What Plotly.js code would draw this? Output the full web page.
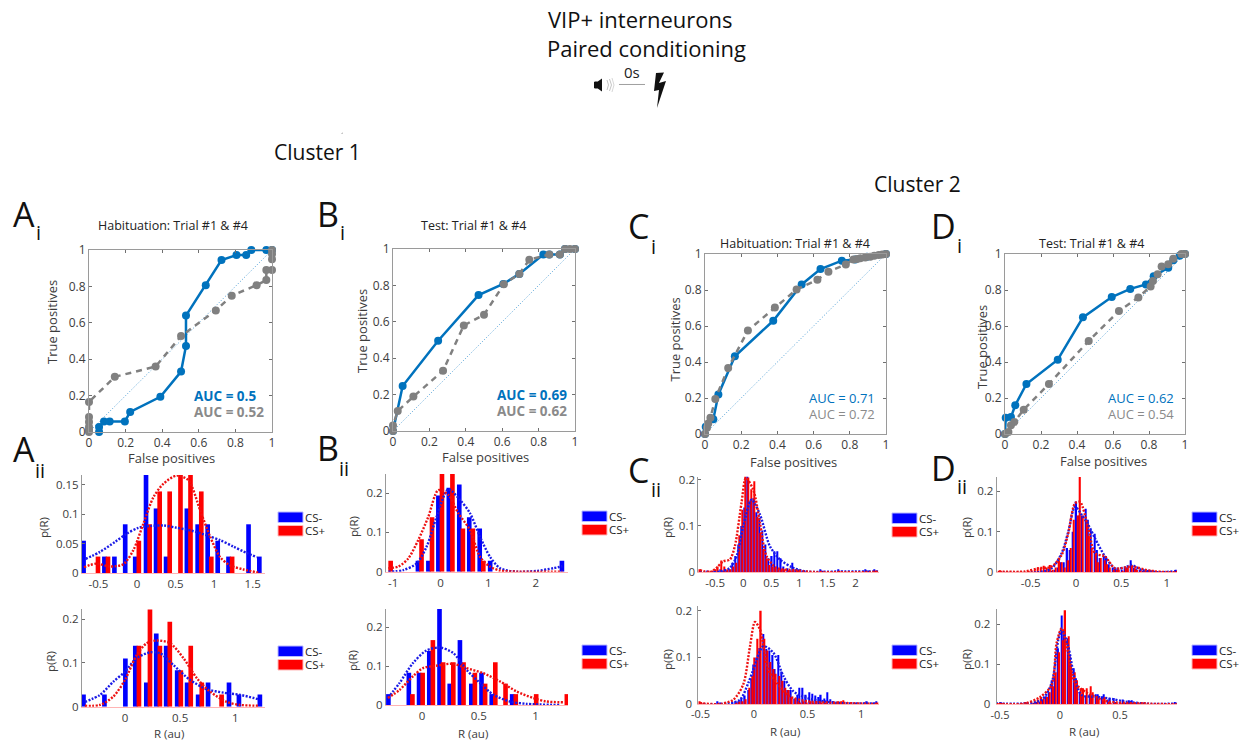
<!DOCTYPE html>
<html><head><meta charset="utf-8">
<script src="https://cdn.plot.ly/plotly-3.0.1.min.js"></script>
<style>html,body{margin:0;padding:0;background:#fff}#g{width:1248px;height:742px}</style>
</head><body><div id="g"></div>
<script>
/* ---------- ROC data ---------- */
const aBlueX=[.055,.055,.082,.113,.196,.225,.39,.503,.53,.53,.638,.724,.806,.859,.887,.969,1];
const aBlueY=[0,.028,.058,.058,.058,.11,.193,.332,.473,.64,.807,.945,.972,.972,1,1,1];
const aGrayX=[0,0,0,0,0,0,.141,.364,.503,.693,.78,.916,.969,.969,1,1,1,1];
const aGrayY=[0,.014,.028,.055,.083,.165,.303,.36,.527,.668,.749,.807,.835,.89,.89,.949,.978,1];
const bBlueX=[0,.053,.248,.47,.606,.694,.826,.859,.917,.945,1];
const bBlueY=[0,.247,.496,.747,.808,.863,.97,.97,.97,1,1];
const bGrayX=[0,0,.026,.112,.275,.389,.5,.609,.694,.749,.859,.917,.945,.972,1];
const bGrayY=[0,.03,.11,.189,.331,.58,.639,.806,.863,.941,.97,.97,1,1,1];
const cBlueX=[0,.004,.046,.074,.165,.377,.534,.638,.756,.83,.895,1];
const cBlueY=[0,.04,.082,.22,.432,.629,.831,.916,.963,.97,.985,1];
const cGrayX=[0,.011,.018,.03,.057,.128,.237,.386,.506,.621,.682,.778,.82,.84,.858,.885,.913,.935,.96,.98,1];
const cGrayY=[0,.035,.058,.09,.195,.367,.575,.703,.803,.857,.902,.942,.97,.972,.976,.98,.985,.99,.994,.997,1];
const dBlueX=[0,.004,.033,.057,.119,.293,.433,.593,.696,.783,.826,.907,.935,.97,1];
const dBlueY=[0,.09,.094,.16,.278,.413,.648,.761,.806,.831,.876,.924,.965,.99,1];
const dGrayX=[0,.019,.033,.052,.104,.244,.465,.633,.741,.809,.822,.848,.87,.907,.935,.98,1];
const dGrayY=[0,.011,.048,.067,.135,.278,.517,.683,.759,.82,.85,.887,.931,.943,.974,1,1];
const rocTicks=[0,.2,.4,.6,.8,1];
const rocTickText=['0','0.2','0.4','0.6','0.8','1'];

/* ---------- histogram data ---------- */
const a1Bins=[-.67,-.53,-.40,-.27,-.13,0,.14,.27,.40,.54,.67,.81,.94,1.07,1.21,1.34,1.47,1.61];
const a1Blue=[.055,0,.028,.028,.083,.028,.167,.11,.028,0,.11,.083,.083,.055,.028,0,.083,.028];
const a1Red=[0,.028,.028,0,0,.055,.083,.139,.139,.167,.167,.139,.028,0,.028,0,0,0];
const a1BlueCurveX=[-.667,-.48,-.286,-.134,.017,.169,.342,.515,.71,.905,1.078,1.25,1.424,1.554];
const a1BlueCurveY=[.024,.036,.053,.067,.077,.080,.081,.077,.072,.064,.056,.045,.034,.027];
const a1RedCurveX=[-.688,-.524,-.351,-.177,-.048,.082,.212,.342,.515,.667,.818,.948,1.078,1.208,1.381,1.597];
const a1RedCurveY=[.010,.016,.011,.015,.039,.084,.129,.152,.166,.158,.107,.062,.027,.013,.006,0];

const a2Bins=[-.36,-.26,-.17,-.08,.02,.11,.21,.30,.39,.49,.58,.68,.77,.86,.96,1.05,1.15,1.24];
const a2Blue=[.028,0,.028,0,.11,.139,.055,.167,.139,.083,.055,.028,.055,0,.055,.028,0,.028];
const a2Red=[0,0,0,0,0,.139,.222,.139,.194,.083,.139,.055,0,.028,0,0,0,0];
const a2BlueCurveX=[-.364,-.227,-.106,0,.106,.227,.318,.439,.591,.742,.894,1.045,1.212];
const a2BlueCurveY=[.011,.027,.057,.080,.111,.124,.122,.095,.061,.040,.032,.027,.017];
const a2RedCurveX=[-.364,-.227,-.106,0,.106,.197,.288,.409,.53,.652,.773,.924,1.045,1.212];
const a2RedCurveY=[.002,.004,.023,.061,.118,.145,.151,.145,.111,.065,.034,.011,.004,.002];

const b1Bins=[-1.09,-.87,-.66,-.44,-.22,-.01,.21,.43,.64,.86,1.08,1.29,1.51,1.73,1.94,2.16,2.38,2.59];
const b1Blue=[0,0,0,.028,.028,.194,.214,.222,.139,.11,.028,0,0,0,0,0,0,.028];
const b1Red=[.028,0,0,.083,.139,.25,.25,.11,.11,.028,0,0,0,0,0,0,0,0];
const b1BlueCurveX=[-1.10,-.786,-.505,-.295,-.084,.161,.407,.618,.828,1.039,1.249,1.6,2.02,2.372,2.561];
const b1BlueCurveY=[0,.004,.021,.064,.14,.21,.183,.149,.089,.038,.009,0,.002,.009,.014];
const b1RedCurveX=[-1.10,-.891,-.681,-.47,-.26,-.049,.161,.372,.618,.828,1.039,1.249,1.67,2.561];
const b1RedCurveY=[.009,.013,.034,.081,.14,.208,.196,.149,.106,.038,.013,.003,0,0];

const b2Bins=[-.28,-.19,-.10,-.01,.08,.17,.26,.35,.45,.54,.63,.72,.81,.90,.99,1.08,1.17,1.26];
const b2Blue=[.028,0,.083,.083,.139,.25,.055,.167,.055,.083,.028,0,.028,0,0,0,0,0];
const b2Red=[0,0,.028,.083,.167,.11,.11,.11,.083,.055,.11,.055,.028,0,.028,0,0,.028];
const b2BlueCurveX=[-.3,-.197,-.079,.038,.156,.274,.391,.509,.626,.774,.921,1.215];
const b2BlueCurveY=[.018,.057,.108,.14,.148,.134,.091,.057,.027,.009,.003,0];
const b2RedCurveX=[-.3,-.197,-.079,.009,.126,.274,.391,.538,.685,.832,.979,1.097,1.244];
const b2RedCurveY=[.018,.039,.074,.095,.101,.106,.095,.082,.061,.035,.018,.009,.007];

const c1Bins=[-.78,-.73,-.67,-.62,-.56,-.51,-.46,-.40,-.35,-.29,-.24,-.19,-.13,-.08,-.02,.03,.08,.14,.19,.25,.30,.35,.41,.46,.52,.57,.62,.68,.73,.79,.84,.89,.95,1.00,1.06,1.11,1.16,1.22,1.27,1.33,1.38,1.43,1.49,1.54,1.60,1.65,1.70,1.76,1.81,1.87,1.92,1.97,2.03,2.08,2.14,2.19,2.24,2.30,2.35,2.41];
const c1Blue=[0,0,0,.003,0,.003,0,.006,.003,.003,.006,.02,.035,.06,.10,.14,.21,.155,.16,.13,.118,.09,.06,.03,.035,.045,.045,.03,.012,.008,.004,.02,.006,.006,.003,.003,0,0,0,0,.006,.002,0,0,0,0,.006,0,0,0,0,0,0,0,0,.006,.003,0,.006,0];
const c1Red=[.006,0,0,.002,.003,.006,.012,.025,.012,.006,.006,.012,.02,.08,.135,.21,.205,.18,.197,.12,.085,.05,.03,.015,.012,.01,.006,.006,.006,.003,.003,.006,.003,.003,0,0,0,0,0,0,.002,0,0,0,0,0,.002,0,0,0,0,0,0,0,0,.002,0,0,.003,0];
const c1BlueCurveX=[-.774,-.417,-.238,-.119,0,.149,.298,.476,.655,.893,1.131,1.667,2.41];
const c1BlueCurveY=[0,.001,.009,.034,.099,.157,.125,.056,.027,.009,.001,.001,.001];
const c1RedCurveX=[-.774,-.595,-.476,-.357,-.238,-.149,-.03,.048,.179,.298,.417,.595,.893,1.25,2.41];
const c1RedCurveY=[.004,0,.009,.023,.027,.056,.15,.204,.179,.107,.034,.009,.004,0,0];

const c2Bins=[-.51,-.48,-.45,-.42,-.40,-.37,-.34,-.31,-.28,-.25,-.22,-.20,-.17,-.14,-.11,-.08,-.05,-.02,0,.03,.06,.09,.12,.15,.18,.20,.23,.26,.29,.32,.35,.38,.41,.43,.46,.49,.52,.55,.58,.61,.63,.66,.69,.72,.75,.78,.81,.83,.86,.89,.92,.95,.98,1.01,1.04,1.06,1.09,1.12,1.15];
const c2Blue=[0,0,0,0,0,0,.006,.003,0,0,0,.003,.006,.006,.012,.018,.03,.055,.085,.10,.12,.15,.118,.115,.105,.075,.105,.07,.05,.03,.03,.012,.02,.035,.035,.02,.025,.022,.018,.015,.02,.012,.025,.01,.006,.003,.003,0,0,0,0,.002,0,0,.003,.006,0,.003,.006];
const c2Red=[.006,.002,0,0,0,0,0,0,0,0,0,0,.003,.006,.006,.01,.035,.06,.10,.14,.20,.14,.115,.09,.075,.065,.06,.05,.035,.03,.015,.01,.006,.003,.006,.003,.006,.003,.006,0,.003,.003,0,0,.003,.006,.006,.008,0,0,0,0,0,0,0,0,0,0,.003];
const c2BlueCurveX=[-.506,-.256,-.131,-.053,-.006,.087,.181,.275,.369,.494,.65,.806,1.15];
const c2BlueCurveY=[0,.001,.009,.045,.074,.124,.11,.06,.027,.013,.006,.002,.001];
const c2RedCurveX=[-.506,-.319,-.194,-.1,-.037,.009,.056,.134,.213,.338,.494,.869,1.15];
const c2RedCurveY=[.002,0,.009,.042,.124,.176,.16,.074,.045,.016,.006,.002,0];

const d1Bins=[-.86,-.83,-.79,-.76,-.73,-.69,-.66,-.63,-.59,-.56,-.53,-.49,-.46,-.43,-.39,-.36,-.33,-.29,-.26,-.23,-.19,-.16,-.13,-.09,-.06,-.03,.01,.04,.07,.11,.14,.17,.21,.24,.27,.31,.34,.37,.41,.44,.47,.51,.54,.57,.61,.64,.67,.71,.74,.77,.81,.84,.87,.91,.94,.97,1.01,1.04,1.07,1.11];
const d1Blue=[0,0,0,0,0,0,0,0,0,0,0,0,0,0,0,0,.002,.003,.003,.006,.012,.025,.025,.06,.055,.10,.175,.14,.14,.157,.13,.105,.095,.055,.035,.04,.04,.02,.012,.01,.008,.006,.012,.012,.03,.012,.008,.006,.004,.003,.006,.002,.002,0,0,0,0,0,0,.006];
const d1Red=[.004,.002,.001,.001,.001,.001,.001,.001,.001,.001,.003,.004,.006,.012,.012,.016,.012,.018,.006,.012,.03,.025,.012,.03,.06,.13,.14,.235,.14,.125,.09,.06,.045,.025,.035,.03,.02,.012,.006,.006,.006,.004,.012,.012,.018,.01,.006,.006,.004,.004,.006,.006,.002,0,0,0,0,0,0,.002];
const d1BlueCurveX=[-.85,-.415,-.268,-.158,-.085,-.011,.063,.136,.21,.32,.43,.54,.614,.724,.908,1.092];
const d1BlueCurveY=[0,0,.01,.047,.1,.162,.142,.117,.084,.039,.01,.012,.018,.006,0,.003];
const d1RedCurveX=[-.85,-.5625,-.415,-.268,-.158,-.085,-.011,.044,.136,.21,.32,.43,.614,.835,1.092];
const d1RedCurveY=[.002,.002,.01,.014,.043,.096,.17,.174,.109,.047,.039,.01,.014,.003,0];

const d2Bins=[-.52,-.49,-.47,-.44,-.42,-.39,-.37,-.34,-.32,-.29,-.27,-.24,-.21,-.19,-.16,-.14,-.11,-.09,-.06,-.04,-.01,.02,.04,.07,.09,.12,.14,.17,.19,.22,.25,.27,.30,.32,.35,.37,.40,.42,.45,.47,.50,.53,.55,.58,.60,.63,.65,.68,.70,.73,.76,.78,.81,.83,.86,.88,.91,.93,.96];
const d2Blue=[.006,.006,0,0,0,0,0,0,.002,.006,.003,0,.003,.006,.006,.012,.02,.03,.06,.07,.14,.222,.18,.165,.12,.09,.065,.03,.02,.02,.025,.02,.025,.025,.02,.025,.012,.016,.016,.006,.006,.012,.004,.01,.01,.006,.004,.002,.002,0,0,0,0,0,0,0,0,0,.006];
const d2Red=[.002,.002,.001,0,0,0,0,0,.003,.006,.004,.003,.006,.012,.018,.015,.018,.03,.045,.08,.13,.16,.235,.17,.10,.08,.06,.04,.04,.04,.045,.03,.02,.012,.012,.018,.006,.004,.004,.004,.002,.002,.002,.002,.003,.002,.004,.006,.006,.002,0,0,0,0,0,0,0,0,.002];
const d2BlueCurveX=[-.508,-.292,-.153,-.069,-.014,.014,.069,.125,.181,.292,.403,.542,.764,.972];
const d2BlueCurveY=[.002,.002,.011,.053,.161,.186,.144,.061,.023,.019,.015,.007,.001,.002];
const d2RedCurveX=[-.508,-.292,-.167,-.069,-.028,.014,.069,.125,.208,.292,.403,.681,.972];
const d2RedCurveY=[.001,.002,.018,.048,.153,.19,.128,.053,.032,.019,.007,.002,0];

/* ---------- page geometry (pixels in the 1248x742 frame) ---------- */
const W=1248,H=742,FONT='"Open Sans", sans-serif';
const TXT='#3c3c3c',AXIS='#9a9a9a',ROCBLUE='#0072BD',ROCGRAY='#808080',HB='#0000FF',HR='#FF0000';
const px=v=>v/W, py=v=>1-v/H;
const annotations=[],shapes=[],traces=[],layout={};

function note(text,x,y,size,color,o={}){
  annotations.push(Object.assign({text:o.bold?'<b>'+text+'</b>':text,x:px(x),y:py(y),xref:'paper',yref:'paper',
    showarrow:false,xanchor:o.anchor||'center',yanchor:'middle',textangle:o.angle||0,
    font:{family:FONT,size:size,color:color||'#111'},borderpad:0,borderwidth:0}));
}
function poly(points,fill,line,width,closed){
  const d=points.map((p,i)=>(i?'L':'M')+px(p[0]).toFixed(5)+' '+py(p[1]).toFixed(5)).join(' ')+(closed?' Z':'');
  shapes.push({type:'path',xref:'paper',yref:'paper',path:d,fillcolor:fill||'rgba(0,0,0,0)',line:{color:line||'rgba(0,0,0,0)',width:width||0}});
}
function rect(x0,y0,x1,y1,fill,line){
  shapes.push({type:'rect',xref:'paper',yref:'paper',x0:px(x0),x1:px(x1),y0:py(y0),y1:py(y1),fillcolor:fill,line:{color:line,width:1}});
}
let axN=0;
function axes(box,xo,yo){
  axN++;const s=axN===1?'':String(axN);
  layout['xaxis'+s]=Object.assign({domain:[px(box[0]),px(box[1])],anchor:'y'+s,fixedrange:true,zeroline:false,showgrid:false,
    tickfont:{family:FONT,size:12,color:TXT}},xo);
  layout['yaxis'+s]=Object.assign({domain:[py(box[3]),py(box[2])],anchor:'x'+s,fixedrange:true,zeroline:false,showgrid:false,
    tickfont:{family:FONT,size:12,color:TXT}},yo);
  return ['x'+s,'y'+s];
}
function roc(box,bx,by,gx,gy,title,titleXY,auc1,auc2,aucBold,aucX,aucY,xTitle,yTitle){
  const common={range:[0,1],tickmode:'array',tickvals:rocTicks,ticktext:rocTickText,ticks:'inside',ticklen:3,tickcolor:'#707070',
    showline:true,linecolor:AXIS,linewidth:1,mirror:'ticks'};
  const [xa,ya]=axes(box,Object.assign({},common),Object.assign({},common));
  note('False positives',xTitle[0],xTitle[1],13,TXT);
  note('True positives',yTitle[0],yTitle[1],13,TXT,{angle:-90});
  traces.push({type:'scatter',mode:'lines',x:[0,1],y:[0,1],xaxis:xa,yaxis:ya,line:{color:'#4f9fd6',width:1,dash:'1px,2px'},hoverinfo:'skip'});
  traces.push({type:'scatter',mode:'lines+markers',x:bx,y:by,xaxis:xa,yaxis:ya,cliponaxis:false,line:{color:ROCBLUE,width:2.5},marker:{color:ROCBLUE,size:8}});
  traces.push({type:'scatter',mode:'lines+markers',x:gx,y:gy,xaxis:xa,yaxis:ya,cliponaxis:false,line:{color:ROCGRAY,width:2.5,dash:'6px,5px'},marker:{color:ROCGRAY,size:8}});
  note(title,titleXY[0],titleXY[1],12.5,'#222');
  note(auc1,aucX,aucY[0],aucBold?13.5:13,ROCBLUE,{anchor:'left',bold:aucBold});
  note(auc2,aucX,aucY[1],aucBold?13.5:13,'#8a8a8a',{anchor:'left',bold:aucBold});
}
function hist(box,xr,yr,xt,xtt,yt,ytt,bins,blue,red,bcx,bcy,rcx,rcy,xTitle,yTitle,leg,yLabelGap){
  const [xa,ya]=axes(box,
    {range:xr,tickmode:'array',tickvals:xt,ticktext:xtt,ticks:'',showline:true,linecolor:'#ffb4b4',linewidth:1,
      tickfont:{family:FONT,size:yLabelGap?11:11.5,color:TXT}},
    {range:yr,tickmode:'array',tickvals:yt,ticktext:ytt,ticks:'inside',ticklen:3,tickcolor:'#707070',showline:true,linecolor:AXIS,linewidth:1,
      ticklabelstandoff:yLabelGap||0,tickfont:{family:FONT,size:11.5,color:TXT}});
  if(xTitle) note('R (au)',xTitle[0],xTitle[1],11.5,TXT);
  note('p(R)',yTitle[0],yTitle[1],11.5,TXT,{angle:-90});
  const step=(bins[bins.length-1]-bins[0])/(bins.length-1);
  traces.push({type:'bar',x:bins,y:blue,xaxis:xa,yaxis:ya,width:.45*step,offset:-.4*step,marker:{color:HB,line:{width:0}},name:'CS-'});
  traces.push({type:'bar',x:bins,y:red,xaxis:xa,yaxis:ya,width:.45*step,offset:-.05*step,marker:{color:HR,line:{width:0}},name:'CS+'});
  traces.push({type:'scatter',mode:'lines',x:bcx,y:bcy,xaxis:xa,yaxis:ya,cliponaxis:false,line:{color:'#1a1ae6',width:2.4,dash:'2px,1.5px',shape:'spline',smoothing:.8},hoverinfo:'skip'});
  traces.push({type:'scatter',mode:'lines',x:rcx,y:rcy,xaxis:xa,yaxis:ya,cliponaxis:false,line:{color:'#ee1111',width:2.4,dash:'2px,1.5px',shape:'spline',smoothing:.8},hoverinfo:'skip'});
  rect(leg[0],leg[1],leg[0]+25,leg[1]+10.5,HB,'#b9b9ff');
  rect(leg[0],leg[1]+13.5,leg[0]+25,leg[1]+24,HR,'#ffb9b9');
  note('CS-',leg[0]+27,leg[1]+5.5,11.5,'#222',{anchor:'left'});
  note('CS+',leg[0]+27,leg[1]+18.5,11.5,'#222',{anchor:'left'});
}

/* ROC panels */
const habTitle='Habituation: Trial #1 &amp; #4', testTitle='Test: Trial #1 &amp; #4';
roc([89,272,250,432],aBlueX,aBlueY,aGrayX,aGrayY,habTitle,[173,226],'AUC = 0.5','AUC = 0.52',true,194,[396,412],[171,458],[52,322]);
roc([393,575,249,431],bBlueX,bBlueY,bGrayX,bGrayY,testTitle,[473,226],'AUC = 0.69','AUC = 0.62',true,497,[395,411],[485,457],[362,331]);
roc([705,886,254,434],cBlueX,cBlueY,cGrayX,cGrayY,habTitle,[795,243],'AUC = 0.71','AUC = 0.72',false,809,[398,414],[793,462],[675,339.5]);
roc([1005,1185,254,434],dBlueX,dBlueY,dGrayX,dGrayY,testTitle,[1091,243],'AUC = 0.62','AUC = 0.54',false,1108,[398,414],[1103,461],[982,347]);

/* histogram panels */
hist([82,265,475,573],[-.714,1.66],[0,.167],[-.5,0,.5,1,1.5],['-0.5','0','0.5','1','1.5'],[0,.05,.1,.15],['0','0.05','0.1','0.15'],a1Bins,a1Blue,a1Red,a1BlueCurveX,a1BlueCurveY,a1RedCurveX,a1RedCurveY,null,[43,528],[278,512]);
hist([82,265,609,706.7],[-.39,1.27],[0,.223],[0,.5,1],['0','0.5','1'],[0,.1,.2],['0','0.1','0.2'],a2Bins,a2Blue,a2Red,a2BlueCurveX,a2BlueCurveY,a2RedCurveX,a2RedCurveY,[169,733],[50,662],[278,646]);
hist([386,568,474,571.7],[-1.15,2.68],[0,.249],[-1,0,1,2],['-1','0','1','2'],[0,.1,.2],['0','0.1','0.2'],b1Bins,b1Blue,b1Red,b1BlueCurveX,b1BlueCurveY,b1RedCurveX,b1RedCurveY,null,[353,527],[582,511]);
hist([386,568,609,705],[-.317,1.286],[0,.247],[0,.5,1],['0','0.5','1'],[0,.1,.2],['0','0.1','0.2'],b2Bins,b2Blue,b2Red,b2BlueCurveX,b2BlueCurveY,b2RedCurveX,b2RedCurveY,[473,733],[352,661],[582,645]);
hist([698.3,879,476.7,572],[-.80,2.42],[0,.207],[-.5,0,.5,1,1.5,2],['-0.5','0','0.5','1','1.5','2'],[0,.1,.2],['0','0.1','0.2'],c1Bins,c1Blue,c1Red,c1BlueCurveX,c1BlueCurveY,c1RedCurveX,c1RedCurveY,null,[667,528],[892,513]);
hist([698.3,879,605.7,704],[-.52,1.168],[0,.211],[-.5,0,.5,1],['-0.5','0','0.5','1'],[0,.1,.2],['0','0.1','0.2'],c2Bins,c2Blue,c2Red,c2BlueCurveX,c2BlueCurveY,c2RedCurveX,c2RedCurveY,[785,731],[667,660],[892,645],3);
hist([996.7,1177,476.7,572.3],[-.874,1.114],[0,.236],[-.5,0,.5,1],['-0.5','0','0.5','1'],[0,.1,.2],['0','0.1','0.2'],d1Bins,d1Blue,d1Red,d1BlueCurveX,d1BlueCurveY,d1RedCurveX,d1RedCurveY,null,[966,528],[1192,512]);
hist([996.7,1177,609,704.3],[-.527,.975],[0,.238],[-.5,0,.5],['-0.5','0','0.5'],[0,.1,.2],['0','0.1','0.2'],d2Bins,d2Blue,d2Red,d2BlueCurveX,d2BlueCurveY,d2RedCurveX,d2RedCurveY,[1084,731],[966,660],[1192,645],3);

/* headings */
note('VIP+ interneurons',640,19,22,'#111');
note('Paired conditioning',646,48,22,'#111');
note('0s',632,72,15,'#222');
note('Cluster 1',317,152,21,'#111');
note('Cluster 2',917,184,21,'#111');

/* panel letters */
[['A',24,214,'i',38,233],['A',24,449,'ii',40,470],['B',328,214,'i',342,233],['B',328,448,'ii',344,468],
 ['C',638,226,'i',653,246],['C',638,470,'ii',656,489],['D',943,226,'i',959,245],['D',943,468,'ii',962,486]].forEach(r=>{
  note(r[0],r[1],r[2],34,'#111');
  note(r[3],r[4],r[5],20,'#111');
});

/* speaker, tone line and lightning bolt */
rect(594.5,82,597.5,88,'#111','#111');
poly([[597,82],[602,78.5],[602,91.5],[597,88]],'#111',null,0,true);
poly([[607,80],[608.5,85],[607,90]],null,'#aaaaaa',.7);
poly([[609.5,79],[611.5,85],[609.5,91]],null,'#aaaaaa',.7);
poly([[612,78],[614,85],[612,92]],null,'#c4c4c4',.7);
poly([[619,84.5],[645,84.5]],null,'#888888',.8);
poly([[656,73],[664,72.5],[659,83],[666,81],[657,108],[659,90],[654,91]],'#111',null,0,true);
poly([[341.5,133.5],[343,133]],null,'#888888',.7);

Object.assign(layout,{width:W,height:H,margin:{l:0,r:0,t:0,b:0},autosize:false,showlegend:false,barmode:'overlay',
  paper_bgcolor:'#fff',plot_bgcolor:'#fff',font:{family:FONT,color:TXT},annotations:annotations,shapes:shapes,hovermode:false});
Plotly.newPlot('g',traces,layout,{displayModeBar:false,responsive:false});
</script></body></html>
